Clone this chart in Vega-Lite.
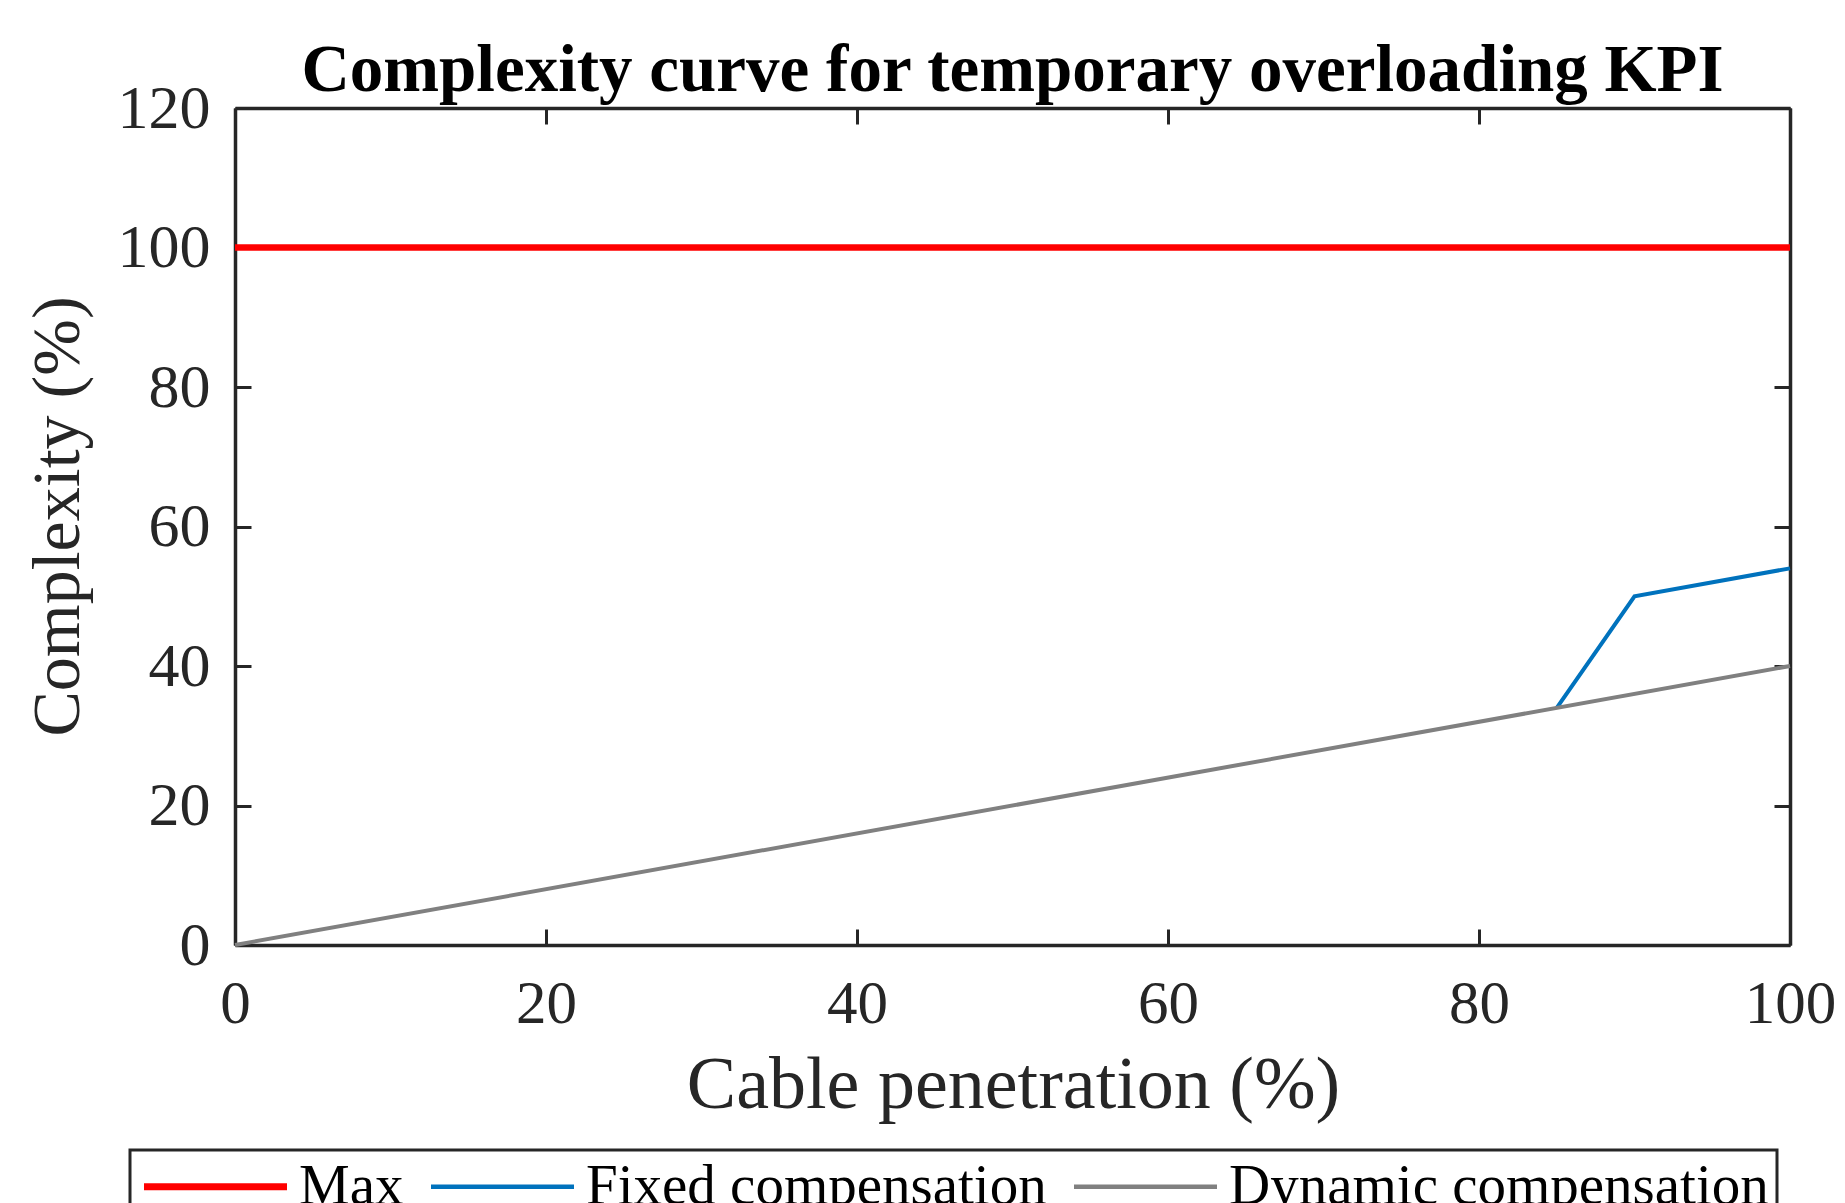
{
  "$schema": "https://vega.github.io/schema/vega-lite/v6.json",
  "width": 1555,
  "height": 837,
  "autosize": {"type": "none"},
  "padding": {"left": 235, "top": 108, "right": 55, "bottom": 258},
  "background": "white",
  "title": {
    "text": "Complexity curve for temporary overloading KPI",
    "font": "Liberation Serif",
    "fontSize": 67,
    "fontWeight": "bold",
    "color": "#000000",
    "anchor": "middle",
    "baseline": "alphabetic",
    "offset": 15,
    "dy": 96
  },
  "config": {"view": {"stroke": null}},
  "data": {
    "values": [
      {"series": "Max", "x": 0, "y": 100},
      {"series": "Max", "x": 100, "y": 100},
      {"series": "Fixed compensation", "x": 85, "y": 34},
      {"series": "Fixed compensation", "x": 90, "y": 50},
      {"series": "Fixed compensation", "x": 100, "y": 54},
      {"series": "Dynamic compensation", "x": 0, "y": 0},
      {"series": "Dynamic compensation", "x": 100, "y": 40}
    ]
  },
  "encoding": {
    "color": {
      "field": "series",
      "type": "nominal",
      "scale": {
        "domain": ["Max", "Fixed compensation", "Dynamic compensation"],
        "range": ["#FF0000", "#0072BD", "#808080"]
      },
      "legend": {
        "orient": "none",
        "legendX": -105,
        "legendY": 1042,
        "direction": "horizontal",
        "title": null,
        "strokeColor": "#262626",
        "padding": 8,
        "labelFont": "Liberation Serif",
        "labelFontSize": 57,
        "labelColor": "#000000",
        "labelLimit": 0,
        "symbolType": "M-4,0H4",
        "symbolSize": 1278,
        "symbolStrokeWidth": 5,
        "symbolOffset": 49,
        "labelOffset": 55,
        "columnPadding": 18,
        "encode": {
          "legend": {"update": {"strokeWidth": {"value": 3}}},
          "symbols": {"update": {"strokeWidth": {"signal": "(datum.value === 'Max' ? 7 : 4.5)"}}}
        }
      }
    }
  },
  "layer": [
    {
      "transform": [{"filter": "datum.series === 'Max'"}],
      "mark": {"type": "line", "strokeWidth": 6.5},
      "encoding": {
        "x": {
          "field": "x", "type": "quantitative",
          "scale": {"domain": [0, 100], "nice": false, "zero": false},
          "axis": {
            "orient": "bottom", "values": [0, 20, 40, 60, 80, 100],
            "title": "Cable penetration (%)", "grid": false,
            "domainColor": "#262626", "domainWidth": 3.5,
            "tickSize": -16, "tickColor": "#262626", "tickWidth": 3,
            "labelFont": "Liberation Serif", "labelFontSize": 61, "labelColor": "#262626",
            "labelPadding": 93, "labelBaseline": "alphabetic", "labelFlush": false, "labelOverlap": false,
            "titleFont": "Liberation Serif", "titleFontSize": 74, "titleFontWeight": "normal", "titleColor": "#262626",
            "titleX": 778, "titleY": 162, "titleBaseline": "alphabetic"
          }
        },
        "y": {
          "field": "y", "type": "quantitative",
          "scale": {"domain": [0, 120], "nice": false, "zero": false},
          "axis": {
            "orient": "left", "values": [0, 20, 40, 60, 80, 100, 120],
            "title": "Complexity (%)", "grid": false,
            "domainColor": "#262626", "domainWidth": 3.5,
            "tickSize": -16, "tickColor": "#262626", "tickWidth": 3,
            "labelFont": "Liberation Serif", "labelFontSize": 62, "labelColor": "#262626",
            "labelPadding": 41, "labelFlush": false, "labelOverlap": false,
            "titleFont": "Liberation Serif", "titleFontSize": 68, "titleFontWeight": "normal", "titleColor": "#262626",
            "titleX": -157, "titleY": 408, "titleBaseline": "alphabetic"
          }
        }
      }
    },
    {
      "transform": [{"filter": "datum.series === 'Fixed compensation'"}],
      "mark": {"type": "line", "strokeWidth": 4},
      "encoding": {
        "x": {
          "field": "x", "type": "quantitative",
          "scale": {"domain": [0, 100], "nice": false, "zero": false},
          "axis": {
            "orient": "top", "values": [0, 20, 40, 60, 80, 100],
            "title": null, "labels": false, "grid": false,
            "domainColor": "#262626", "domainWidth": 3.5,
            "tickSize": -16, "tickColor": "#262626", "tickWidth": 3
          }
        },
        "y": {
          "field": "y", "type": "quantitative",
          "scale": {"domain": [0, 120], "nice": false, "zero": false},
          "axis": {
            "orient": "right", "values": [0, 20, 40, 60, 80, 100, 120],
            "title": null, "labels": false, "grid": false,
            "domainColor": "#262626", "domainWidth": 3.5,
            "tickSize": -16, "tickColor": "#262626", "tickWidth": 3
          }
        }
      }
    },
    {
      "transform": [{"filter": "datum.series === 'Dynamic compensation'"}],
      "mark": {"type": "line", "strokeWidth": 4},
      "encoding": {
        "x": {"field": "x", "type": "quantitative", "scale": {"domain": [0, 100], "nice": false, "zero": false}, "axis": null},
        "y": {"field": "y", "type": "quantitative", "scale": {"domain": [0, 120], "nice": false, "zero": false}, "axis": null}
      }
    }
  ],
  "resolve": {"axis": {"x": "independent", "y": "independent"}}
}
